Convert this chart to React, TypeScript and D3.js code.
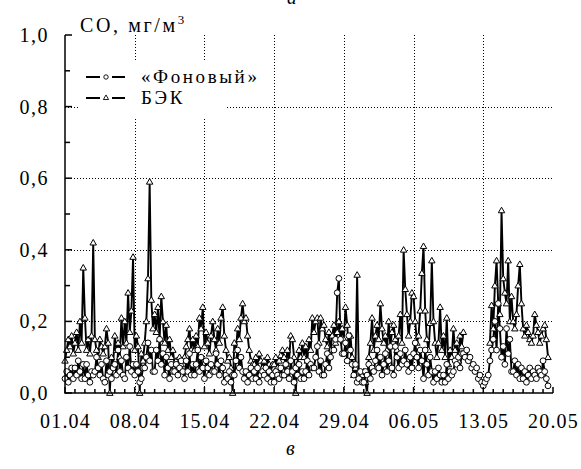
import React from "react";
import * as d3 from "d3";

// sampling step of both series, in days from 01.04 (every 4 hours)
const stepDays = 1 / 6;

// БЭК (triangles), mg/m3, 6 samples per day
const bek: (number | null)[] = [
  0.09, 0.12, 0.15, 0.13, 0.16, 0.11,
  0.14, 0.17, 0.12, 0.20, 0.14, 0.35,
  0.21, 0.12, 0.15, 0.11, 0.16, 0.42,
  0.15, 0.12, 0.10, 0.15, 0.13, 0.11,
  0.13, 0.18, 0.14, 0.00, 0.10, 0.08,
  0.16, 0.12, 0.14, 0.10, 0.21, 0.13,
  0.20, 0.14, 0.28, 0.17, 0.23, 0.38,
  0.12, 0.16, 0.13, 0.00, 0.11, 0.09,
  0.14, 0.20, 0.32, 0.59, 0.26, 0.18,
  0.22, 0.17, 0.24, 0.15, 0.27, 0.20,
  0.14, 0.19, 0.12, 0.15, 0.10, 0.12,
  0.08, 0.09, 0.08, 0.10, 0.08, 0.09,
  0.10, 0.13, 0.15, 0.18, 0.12, 0.15,
  0.12, 0.16, 0.13, 0.21, 0.18, 0.24,
  0.13, 0.17, 0.14, 0.11, 0.16, 0.20,
  0.15, 0.12, 0.18, 0.14, 0.21, 0.24,
  0.16, 0.12, 0.09, 0.10, 0.07, 0.00,
  0.14, 0.12, 0.18, 0.15, 0.21, 0.25,
  0.20, 0.21, 0.16, 0.12, 0.09, 0.08,
  0.08, 0.10, 0.07, 0.11, 0.09, 0.07,
  0.09, 0.06, 0.10, 0.08, 0.06, 0.08,
  0.08, 0.10, 0.07, 0.09, 0.105, 0.12,
  0.10, 0.08, 0.12, 0.09, 0.16, 0.15,
  0.10, 0.00, 0.08, 0.12, 0.10, 0.14,
  0.10, 0.13, 0.09, 0.15, 0.12, 0.21,
  0.17, 0.20, 0.21, 0.14, 0.21, 0.18,
  0.19, 0.15, 0.13, 0.17, 0.12, 0.16,
  0.19, 0.14, 0.17, 0.20, 0.15, 0.18,
  0.15, 0.24, 0.19, 0.12, 0.16, 0.10,
  0.05, 0.07, 0.33, 0.06, 0.04, 0.05,
  0.06, 0.03, 0.00, 0.10, 0.14, 0.21,
  0.12, 0.16, 0.19, 0.15, 0.25, 0.18,
  0.14, 0.16, 0.12, 0.20, 0.13, 0.17,
  0.19, 0.15, 0.12, 0.16, 0.22, 0.14,
  0.40, 0.29, 0.22, 0.16, 0.20, 0.28,
  0.27, 0.20, 0.14, 0.16, 0.23, 0.335,
  0.41, 0.23, 0.15, 0.12, 0.195, 0.37,
  0.20, 0.14, 0.10, 0.14, 0.24, 0.12,
  0.16, 0.10, 0.21, 0.08, 0.12, 0.10,
  0.18, 0.12, 0.14, 0.09, 0.16, 0.13,
  0.17, null, null, null, null, null,
  null, null, null, null, null, null,
  null, null, null, null, 0.14, 0.245,
  0.18, 0.30, 0.37, 0.25, 0.22, 0.51,
  0.32, 0.28, 0.25, 0.37, 0.20, 0.27,
  0.20, 0.18, 0.22, 0.30, 0.36, 0.25,
  0.18, 0.16, 0.19, 0.17, 0.15, 0.14,
  0.16, 0.22, 0.19, 0.17, 0.14, 0.16,
  0.18, 0.19, 0.15, 0.10,
];

// «Фоновый» (circles), mg/m3, 6 samples per day
const fon: (number | null)[] = [
  0.04, 0.06, 0.03, 0.05, 0.07, 0.04,
  0.07, 0.05, 0.09, 0.06, 0.04, 0.08,
  0.04, 0.08, 0.05, 0.03, 0.06, 0.05,
  0.06, 0.10, 0.07, 0.05, 0.08, 0.04,
  0.03, 0.09, 0.05, 0.06, 0.04, 0.07,
  0.08, 0.05, 0.12, 0.06, 0.09, 0.05,
  0.04, 0.10, 0.07, 0.13, 0.06, 0.08,
  0.05, 0.08, 0.06, 0.03, 0.04, 0.07,
  0.07, 0.10, 0.14, 0.09, 0.12, 0.06,
  0.06, 0.12, 0.09, 0.15, 0.08, 0.11,
  0.05, 0.10, 0.07, 0.04, 0.08, 0.06,
  0.06, 0.08, 0.05, 0.07, 0.09, 0.06,
  0.04, 0.09, 0.06, 0.11, 0.05, 0.08,
  0.05, 0.08, 0.12, 0.06, 0.10, 0.07,
  0.04, 0.09, 0.07, 0.05, 0.08, 0.06,
  0.06, 0.11, 0.08, 0.05, 0.09, 0.07,
  0.03, 0.05, 0.04, 0.06, 0.03, 0.05,
  0.05, 0.09, 0.12, 0.07, 0.10, 0.06,
  0.04, 0.06, 0.03, 0.05, 0.07, 0.04,
  0.06, 0.04, 0.07, 0.03, 0.05, 0.06,
  0.05, 0.07, 0.04, 0.06, 0.03, 0.05,
  0.03, 0.06, 0.05, 0.04, 0.07, 0.05,
  0.05, 0.08, 0.06, 0.04, 0.09, 0.06,
  0.03, 0.07, 0.05, 0.08, 0.04, 0.06,
  0.04, 0.06, 0.09, 0.05, 0.08, 0.07,
  0.07, 0.10, 0.13, 0.06, 0.09, 0.05,
  0.05, 0.08, 0.11, 0.07, 0.10, 0.12,
  0.12, 0.15, 0.28, 0.32, 0.15, 0.11,
  0.11, 0.14, 0.09, 0.16, 0.12, 0.08,
  0.05, 0.08, 0.03, 0.04, 0.06, 0.03,
  0.03, 0.06, 0.05, 0.08, 0.04, 0.07,
  0.06, 0.09, 0.12, 0.07, 0.10, 0.05,
  0.08, 0.11, 0.06, 0.09, 0.13, 0.07,
  0.05, 0.13, 0.10, 0.07, 0.11, 0.08,
  0.09, 0.12, 0.08, 0.06, 0.10, 0.07,
  0.11, 0.14, 0.10, 0.07, 0.12, 0.09,
  0.04, 0.12, 0.08, 0.05, 0.10, 0.06,
  0.03, 0.06, 0.04, 0.07, 0.05, 0.03,
  0.05, 0.03, 0.08, 0.04, 0.06, 0.05,
  0.06, 0.09, 0.08, 0.10, 0.07, 0.11,
  0.11, 0.10, 0.12, 0.09, 0.10, 0.07,
  0.08, 0.06, 0.07, 0.04, 0.05, 0.03,
  0.02, 0.03, 0.04, 0.05, 0.09, 0.12,
  0.15, 0.20, 0.12, 0.25, 0.18, 0.10,
  0.13, 0.08, 0.18, 0.11, 0.15, 0.06,
  0.06, 0.09, 0.05, 0.08, 0.04, 0.07,
  0.04, 0.06, 0.03, 0.05, 0.07, 0.04,
  0.06, 0.05, 0.04, 0.07, 0.06, 0.05,
  0.09, 0.06, 0.04, 0.02,
];

const xTickLabels = ["01.04", "08.04", "15.04", "22.04", "29.04", "06.05", "13.05", "20.05"];
const xTickDays = [0, 7, 14, 21, 28, 35, 42, 49];
const yTickLabels = ["0,0", "0,2", "0,4", "0,6", "0,8", "1,0"];
const yTickValues = [0, 0.2, 0.4, 0.6, 0.8, 1.0];
const legendLabels = ["«Фоновый»", "БЭК"];

const FONT = '"Liberation Serif", "DejaVu Serif", "Times New Roman", serif';

export default function App() {
  const x = d3.scaleLinear().domain([0, 49]).range([65, 553]);
  const y = d3.scaleLinear().domain([0, 1]).range([393, 35]);

  const mk = (arr: (number | null)[]) => arr.map((v, i) => ({ d: i * stepDays, v }));
  const bekPts = mk(bek);
  const fonPts = mk(fon);

  const line = d3
    .line<{ d: number; v: number | null }>()
    .defined((p) => p.v != null)
    .x((p) => x(p.d))
    .y((p) => y(p.v as number));

  const tri = d3.symbol().type(d3.symbolTriangle).size(18)()!;
  const triSmall = d3.symbol().type(d3.symbolTriangle).size(12)()!;

  const dayTicks = d3.range(0, 50);
  const minorY = d3.range(0, 11).map((i) => i / 10);
  const txt = { fontFamily: FONT } as React.CSSProperties;

  return (
    <svg
      width={581}
      height={469}
      style={{ position: "absolute", left: 0, top: 0, background: "#fff", fontFamily: FONT }}
    >
      <rect width={581} height={469} fill="#fff" />
      {/* gridlines */}
      <g stroke="#000" strokeWidth={1} strokeDasharray="1,2">
        {yTickValues.slice(1, 5).map((v) => (
          <line key={"h" + v} x1={x(0)} x2={x(49)} y1={Math.round(y(v)) + 0.5} y2={Math.round(y(v)) + 0.5} />
        ))}
        {xTickDays.slice(1, 7).map((d) => (
          <line key={"v" + d} x1={Math.round(x(d)) + 0.5} x2={Math.round(x(d)) + 0.5} y1={y(1)} y2={y(0)} />
        ))}
      </g>

      {/* series */}
      <path d={line(bekPts) || ""} fill="none" stroke="#000" strokeWidth={1.9} strokeLinejoin="round" />
      <path d={line(fonPts) || ""} fill="none" stroke="#000" strokeWidth={1.9} strokeLinejoin="round" />
      {bekPts
        .filter((p) => p.v != null)
        .map((p, i) => (
          <path
            key={"t" + i}
            d={tri}
            transform={`translate(${x(p.d)},${y(p.v as number) + 0.5})`}
            fill="#fff"
            stroke="#000"
            strokeWidth={1}
          />
        ))}
      {fonPts
        .filter((p) => p.v != null)
        .map((p, i) => (
          <circle key={"c" + i} cx={x(p.d)} cy={y(p.v as number)} r={2.9} fill="#fff" stroke="#000" strokeWidth={1} />
        ))}

      {/* legend */}
      <rect x={80} y={62} width={147} height={56} fill="#fff" />
      {legendLabels.map((lab, i) => {
        const ly = 77 + i * 21;
        return (
          <g key={lab}>
            <line x1={86} x2={100} y1={ly} y2={ly} stroke="#000" strokeWidth={2} />
            <line x1={112} x2={125} y1={ly} y2={ly} stroke="#000" strokeWidth={2} />
            {i === 0 ? (
              <circle cx={106} cy={ly} r={2.2} fill="#fff" stroke="#000" strokeWidth={0.9} />
            ) : (
              <path d={triSmall} transform={`translate(106,${ly})`} fill="#fff" stroke="#000" strokeWidth={0.9} />
            )}
            <text x={141} y={ly + 6} fontSize={19} letterSpacing={2.6} style={txt}>
              {lab}
            </text>
          </g>
        );
      })}

      {/* axes */}
      <g stroke="#000" strokeWidth={1.5} fill="none">
        <line x1={65} x2={65} y1={y(1)} y2={y(0)} />
        <line x1={64.25} x2={x(49)} y1={y(0)} y2={y(0)} />
        {minorY.map((v, i) => (
          <line key={"yt" + i} x1={65} x2={65 + (i % 2 === 0 ? 7 : 5)} y1={y(v)} y2={y(v)} />
        ))}
        {dayTicks.map((d) => (
          <line key={"xt" + d} x1={x(d)} x2={x(d)} y1={y(0)} y2={y(0) - (d % 7 === 0 ? 6 : 4)} />
        ))}
      </g>

      {/* tick labels */}
      {yTickValues.map((v, i) => (
        <text key={"yl" + i} x={49} y={y(v) + 7} textAnchor="end" fontSize={20} letterSpacing={1.5} style={txt}>
          {yTickLabels[i]}
        </text>
      ))}
      {xTickDays.map((d, i) => (
        <text key={"xl" + i} x={x(d) + 0.5} y={428} textAnchor="middle" fontSize={20} letterSpacing={1.2} style={txt}>
          {xTickLabels[i]}
        </text>
      ))}

      {/* title */}
      <text x={80} y={32} fontSize={20} letterSpacing={2.6} style={txt}>
        СО, мг/м<tspan dy={-8} fontSize={13}>3</tspan>
      </text>
      <text x={287} y={4} fontSize={19} fontStyle="italic" style={txt}>а</text>
      <text x={286} y={455} fontSize={20} fontStyle="italic" style={txt}>в</text>
    </svg>
  );
}
